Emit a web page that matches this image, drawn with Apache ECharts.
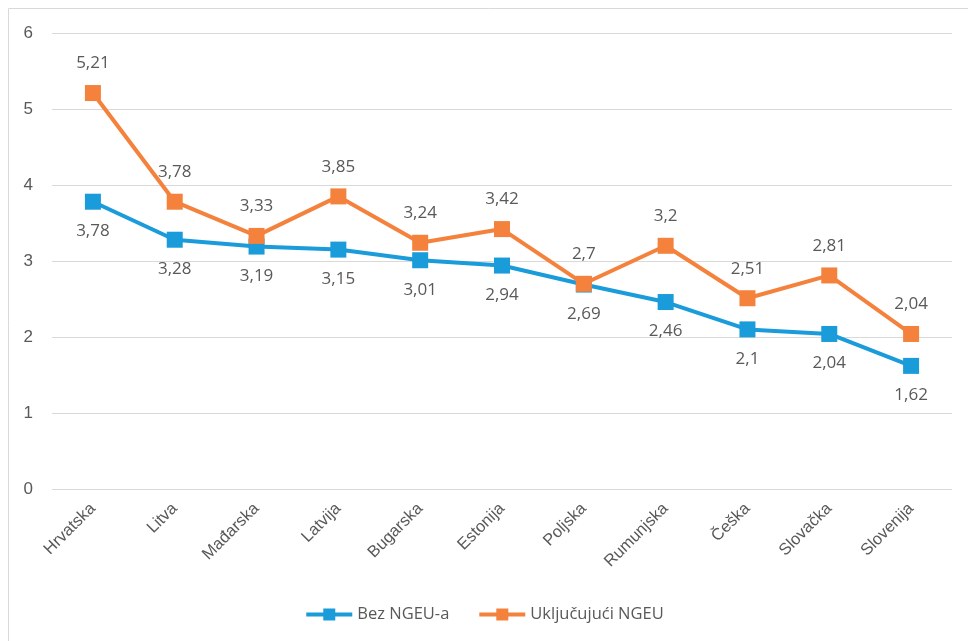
<!DOCTYPE html>
<html>
<head>
<meta charset="utf-8">
<script src="https://cdn.jsdelivr.net/npm/echarts@6/dist/echarts.min.js"></script>
<style>
html, body { margin: 0; padding: 0; background: #fff; }
#chart { width: 968px; height: 641px; }
</style>
</head>
<body>
<div id="chart"></div>
<script>
// podaci
var countries = ['Hrvatska', 'Litva', 'Mađarska', 'Latvija', 'Bugarska', 'Estonija', 'Poljska', 'Rumunjska', 'Češka', 'Slovačka', 'Slovenija'];
var bezNgeu = [3.78, 3.28, 3.19, 3.15, 3.01, 2.94, 2.69, 2.46, 2.1, 2.04, 1.62];
var ukljNgeu = [5.21, 3.78, 3.33, 3.85, 3.24, 3.42, 2.7, 3.2, 2.51, 2.81, 2.04];
var seriesNames = ['Bez NGEU-a', 'Uključujući NGEU'];

function fmt(p) {
    return String(p.value).replace('.', ',');
}

var myChart = echarts.init(document.getElementById('chart'));
myChart.setOption({
    animation: false,
    graphic: [{
        type: 'rect',
        shape: { x: 8.5, y: 8.5, width: 1200, height: 1200 },
        style: { fill: 'none', stroke: '#D9D9D9', lineWidth: 1 },
        silent: true
    }],
    grid: { left: 52, right: 16, top: 33, bottom: 152 },
    legend: {
        bottom: 13,
        left: 'center',
        itemWidth: 46,
        itemHeight: 15,
        itemGap: 28,
        lineStyle: { width: 4 },
        textStyle: { fontFamily: 'Open Sans', fontSize: 16.5, color: '#595959' },
        data: seriesNames
    },
    xAxis: {
        type: 'category',
        data: countries,
        boundaryGap: true,
        axisLine: { show: false },
        axisTick: { show: false },
        axisLabel: {
            rotate: 45,
            margin: 17,
            fontFamily: 'Liberation Sans',
            fontSize: 16.5,
            color: '#595959'
        }
    },
    yAxis: {
        type: 'value',
        min: 0,
        max: 6,
        interval: 1,
        axisLine: { show: false },
        axisTick: { show: false },
        axisLabel: { fontFamily: 'Liberation Sans', fontSize: 17, color: '#595959', margin: 19 },
        splitLine: { lineStyle: { color: '#D9D9D9', width: 1 } }
    },
    series: [{
        name: seriesNames[0],
        type: 'line',
        data: bezNgeu,
        symbol: 'rect',
        symbolSize: 16,
        lineStyle: { width: 4, color: '#1A9BDA' },
        itemStyle: { color: '#1A9BDA' },
        label: {
            show: true,
            position: 'bottom',
            distance: 13,
            formatter: fmt,
            fontFamily: 'Open Sans',
            fontSize: 17,
            color: '#595959'
        },
        z: 3
    }, {
        name: seriesNames[1],
        type: 'line',
        data: ukljNgeu,
        symbol: 'rect',
        symbolSize: 16,
        lineStyle: { width: 4, color: '#F4823C' },
        itemStyle: { color: '#F4823C' },
        label: {
            show: true,
            position: 'top',
            distance: 13,
            formatter: fmt,
            fontFamily: 'Open Sans',
            fontSize: 17,
            color: '#595959'
        },
        z: 4
    }]
});
</script>
</body>
</html>
